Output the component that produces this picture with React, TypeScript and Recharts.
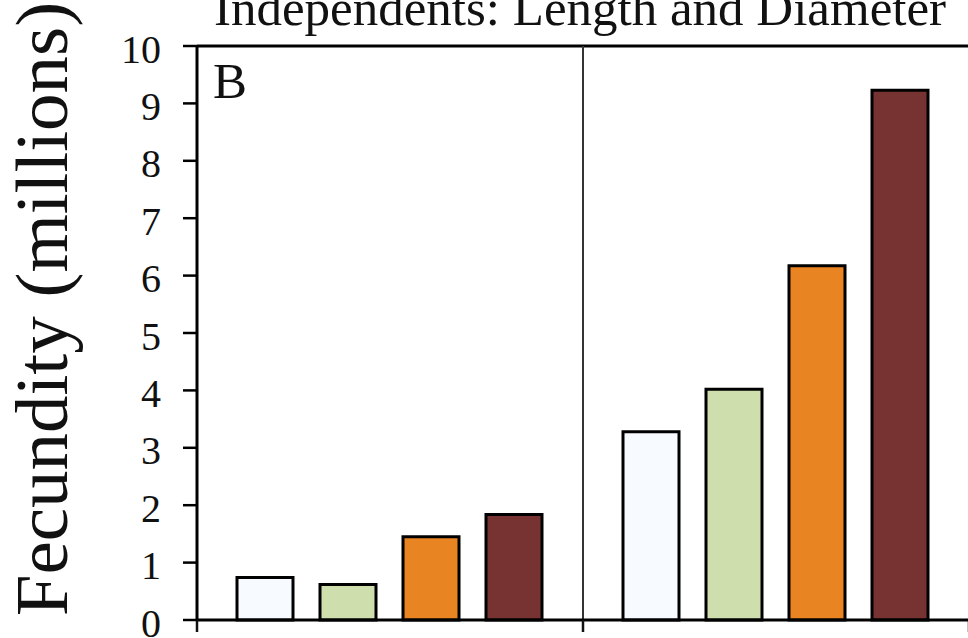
import React from "react";
import {
  BarChart,
  Bar,
  XAxis,
  YAxis,
  ReferenceLine,
  Customized,
} from "recharts";

// Two groups of fecundity estimates (millions), four size classes each
const groups = ["Group 1", "Group 2"];
const classA = [0.74, 3.28];
const classB = [0.62, 4.02];
const classC = [1.45, 6.17];
const classD = [1.84, 9.23];
const yTicks = [0, 1, 2, 3, 4, 5, 6, 7, 8, 9, 10];
const groupEdges = [0, 1, 2];

const colors = ["#F7FBFF", "#CFDEAD", "#E98422", "#773331"];
const FONT = "'Liberation Serif', 'Times New Roman', serif";

// each group sits in the middle of its unit slot on the x scale
const data = groups.map((g, i) => ({
  group: g,
  slot: i + 0.5,
  a: classA[i],
  b: classB[i],
  c: classC[i],
  d: classD[i],
}));

const YTick = (props: any) => {
  const { x, y, payload } = props;
  return (
    <text
      x={x}
      y={y + 16.5}
      textAnchor="end"
      fontFamily={FONT}
      fontSize={40}
      fill="#111"
    >
      {payload.value}
    </text>
  );
};

// group boundaries carry tick marks but no labels
const NoLabel = () => <g />;

const Texts = () => (
  <g fontFamily={FONT} fill="#111">
    <text x={580} y={65} textAnchor="middle" fontSize={51}>
      Independents: Length and Diameter
    </text>
    <text x={213} y={138} fontSize={51}>
      B
    </text>
    <text
      x={67}
      y={349}
      textAnchor="middle"
      fontSize={75}
      transform="rotate(-90 67 349)"
    >
      Fecundity (millions)
    </text>
  </g>
);

export default function App() {
  return (
    <div
      style={{
        position: "absolute",
        left: 0,
        top: 0,
        width: 968,
        height: 638,
        overflow: "hidden",
        background: "#fff",
      }}
    >
      <div style={{ position: "absolute", left: 0, top: -40 }}>
        <BarChart
          width={1000}
          height={700}
          data={data}
          margin={{ top: 86, right: 31, bottom: 0, left: 0 }}
          barCategoryGap={40}
          barGap={27}
        >
          <XAxis
            dataKey="slot"
            type="number"
            domain={[0, 2]}
            ticks={groupEdges}
            interval={0}
            tick={<NoLabel />}
            tickSize={12}
            height={40}
            axisLine={{ stroke: "#000", strokeWidth: 3 }}
            tickLine={{ stroke: "#111", strokeWidth: 2.5 }}
          />
          <YAxis
            domain={[0, 10]}
            ticks={yTicks}
            width={197}
            tickSize={14}
            tickMargin={22}
            interval={0}
            tick={<YTick />}
            axisLine={{ stroke: "#000", strokeWidth: 3 }}
            tickLine={{ stroke: "#000", strokeWidth: 2.5 }}
          />
          <ReferenceLine y={10} stroke="#000" strokeWidth={3} />
          <ReferenceLine x={1} stroke="#333" strokeWidth={2} />
          {(["a", "b", "c", "d"] as const).map((k, i) => (
            <Bar
              key={k}
              dataKey={k}
              fill={colors[i]}
              stroke="#000"
              strokeWidth={3}
              isAnimationActive={false}
            />
          ))}
          <Customized component={Texts} />
        </BarChart>
      </div>
    </div>
  );
}
